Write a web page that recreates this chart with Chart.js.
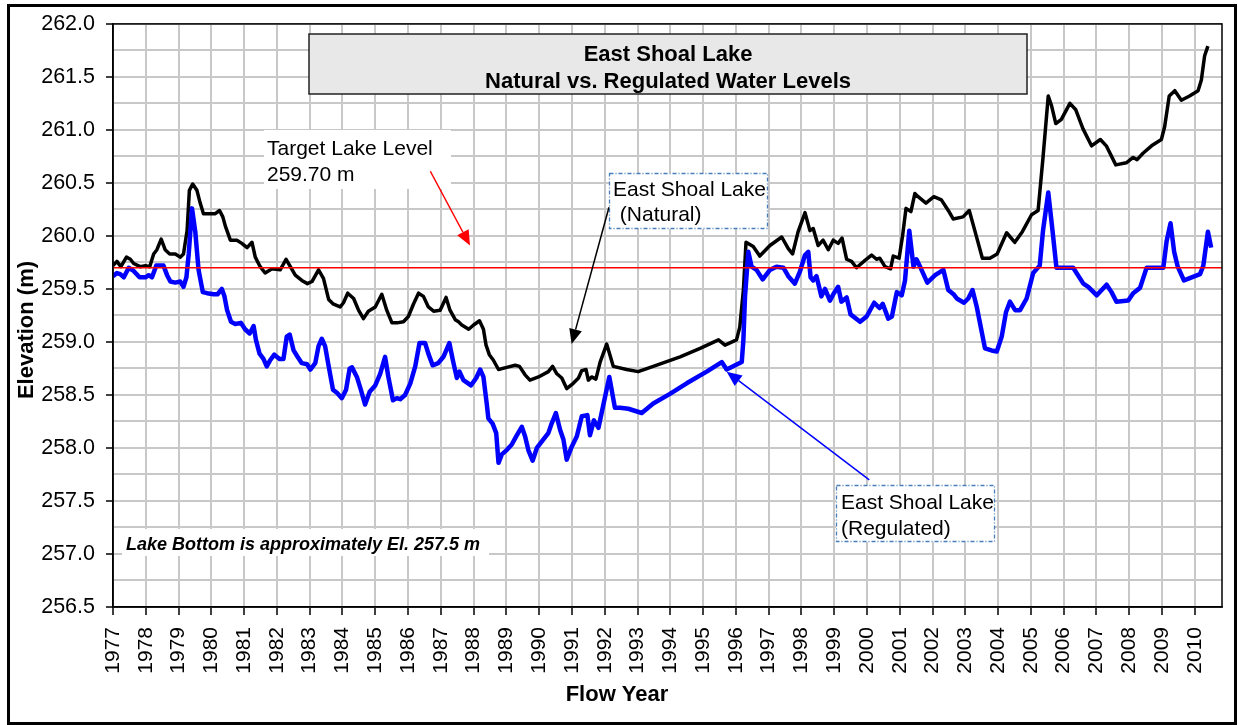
<!DOCTYPE html>
<html><head><meta charset="utf-8">
<script src="https://cdn.jsdelivr.net/npm/chart.js@4/dist/chart.umd.min.js"></script>
<style>html,body{margin:0;padding:0;background:#fff;}#wrap{width:1238px;height:725px;position:relative;}</style>
</head><body><div id="wrap"><canvas id="c"></canvas></div>
<script>
const naturalYears = [1977.00,1977.12,1977.24,1977.41,1977.53,1977.63,1977.83,1977.99,1978.12,1978.24,1978.34,1978.47,1978.59,1978.73,1978.90,1979.05,1979.15,1979.26,1979.33,1979.43,1979.56,1979.66,1979.76,1979.97,1980.12,1980.25,1980.35,1980.43,1980.58,1980.78,1980.93,1981.09,1981.24,1981.34,1981.49,1981.64,1981.85,1982.10,1982.28,1982.41,1982.56,1982.76,1982.93,1983.07,1983.27,1983.42,1983.58,1983.71,1983.93,1984.03,1984.16,1984.34,1984.49,1984.64,1984.79,1985.00,1985.20,1985.35,1985.51,1985.66,1985.86,1986.01,1986.17,1986.32,1986.47,1986.62,1986.78,1986.98,1987.16,1987.28,1987.44,1987.54,1987.64,1987.85,1988.00,1988.18,1988.30,1988.38,1988.48,1988.60,1988.76,1989.01,1989.27,1989.40,1989.57,1989.72,1989.98,1990.28,1990.41,1990.54,1990.69,1990.84,1991.04,1991.20,1991.30,1991.43,1991.50,1991.60,1991.73,1991.86,1992.06,1992.26,1992.67,1993.02,1993.48,1994.30,1994.91,1995.47,1995.67,1996.02,1996.12,1996.23,1996.31,1996.53,1996.73,1997.04,1997.40,1997.60,1997.73,1997.90,1998.11,1998.26,1998.36,1998.51,1998.66,1998.82,1998.97,1999.12,1999.24,1999.38,1999.53,1999.68,1999.94,2000.14,2000.29,2000.39,2000.55,2000.72,2000.80,2000.98,2001.09,2001.19,2001.34,2001.46,2001.56,2001.80,2002.04,2002.27,2002.48,2002.63,2002.93,2003.12,2003.29,2003.52,2003.75,2003.97,2004.26,2004.51,2004.74,2005.02,2005.22,2005.37,2005.53,2005.63,2005.76,2005.93,2006.19,2006.37,2006.59,2006.85,2007.12,2007.30,2007.59,2007.91,2008.12,2008.24,2008.42,2008.68,2008.98,2009.08,2009.22,2009.39,2009.59,2009.84,2010.10,2010.20,2010.30,2010.40];
const naturalLevels = [259.72,259.76,259.71,259.80,259.78,259.74,259.71,259.72,259.71,259.83,259.87,259.97,259.87,259.83,259.83,259.80,259.83,260.05,260.43,260.49,260.43,260.31,260.21,260.21,260.21,260.24,260.18,260.09,259.96,259.96,259.93,259.89,259.94,259.80,259.71,259.65,259.69,259.68,259.78,259.71,259.63,259.58,259.55,259.57,259.68,259.60,259.40,259.36,259.33,259.37,259.46,259.41,259.30,259.22,259.29,259.33,259.45,259.30,259.18,259.18,259.19,259.24,259.36,259.46,259.43,259.33,259.29,259.30,259.42,259.30,259.21,259.19,259.16,259.12,259.16,259.20,259.12,258.97,258.88,258.83,258.74,258.76,258.78,258.77,258.69,258.64,258.67,258.72,258.77,258.70,258.66,258.56,258.61,258.66,258.73,258.74,258.64,258.67,258.65,258.81,258.98,258.77,258.74,258.72,258.77,258.86,258.94,259.02,258.97,259.02,259.14,259.49,259.94,259.90,259.81,259.91,259.99,259.88,259.83,260.04,260.22,260.05,260.07,259.91,259.96,259.87,259.96,259.93,259.98,259.78,259.76,259.70,259.77,259.82,259.78,259.79,259.71,259.69,259.81,259.79,260.01,260.26,260.23,260.40,260.37,260.31,260.37,260.34,260.24,260.16,260.18,260.24,260.05,259.79,259.79,259.83,260.03,259.94,260.04,260.20,260.24,260.74,261.32,261.23,261.06,261.10,261.25,261.19,261.01,260.85,260.91,260.85,260.67,260.69,260.74,260.72,260.78,260.85,260.91,261.03,261.32,261.37,261.28,261.32,261.37,261.47,261.70,261.79];
const regulatedYears = [1977.00,1977.12,1977.22,1977.33,1977.48,1977.63,1977.81,1977.99,1978.09,1978.19,1978.32,1978.54,1978.65,1978.75,1978.90,1979.05,1979.15,1979.24,1979.31,1979.41,1979.51,1979.61,1979.74,1979.87,1980.07,1980.19,1980.32,1980.40,1980.48,1980.60,1980.73,1980.90,1981.03,1981.17,1981.29,1981.36,1981.47,1981.59,1981.69,1981.80,1981.92,1982.08,1982.20,1982.30,1982.39,1982.51,1982.63,1982.76,1982.92,1983.02,1983.17,1983.27,1983.37,1983.47,1983.58,1983.71,1983.83,1983.98,1984.11,1984.22,1984.29,1984.44,1984.56,1984.69,1984.83,1985.00,1985.15,1985.30,1985.40,1985.54,1985.66,1985.76,1985.91,1986.07,1986.22,1986.35,1986.52,1986.62,1986.75,1986.92,1987.08,1987.26,1987.38,1987.49,1987.57,1987.69,1987.92,1988.08,1988.20,1988.30,1988.40,1988.45,1988.58,1988.69,1988.76,1988.86,1989.01,1989.16,1989.30,1989.47,1989.57,1989.67,1989.80,1989.93,1990.13,1990.28,1990.38,1990.51,1990.64,1990.74,1990.84,1990.99,1991.15,1991.30,1991.47,1991.55,1991.67,1991.81,1991.96,1992.14,1992.31,1992.47,1992.72,1993.13,1993.48,1993.99,1994.50,1995.11,1995.57,1995.72,1996.18,1996.23,1996.28,1996.38,1996.48,1996.63,1996.82,1997.04,1997.24,1997.45,1997.60,1997.80,1997.95,1998.11,1998.21,1998.28,1998.36,1998.46,1998.61,1998.72,1998.87,1998.99,1999.12,1999.22,1999.38,1999.50,1999.79,1999.99,2000.22,2000.38,2000.48,2000.65,2000.76,2000.91,2001.06,2001.16,2001.29,2001.42,2001.51,2001.62,2001.84,2002.08,2002.33,2002.48,2002.64,2002.74,2002.96,2003.09,2003.22,2003.35,2003.60,2003.80,2003.96,2004.11,2004.24,2004.36,2004.52,2004.67,2004.87,2005.07,2005.27,2005.37,2005.53,2005.66,2005.78,2006.29,2006.60,2006.75,2007.01,2007.16,2007.31,2007.46,2007.61,2007.97,2008.12,2008.33,2008.53,2009.04,2009.14,2009.26,2009.37,2009.48,2009.67,2010.16,2010.26,2010.40,2010.50];
const regulatedLevels = [259.62,259.65,259.64,259.61,259.70,259.67,259.61,259.61,259.63,259.61,259.72,259.72,259.63,259.57,259.56,259.57,259.52,259.61,259.83,260.26,260.04,259.68,259.47,259.46,259.45,259.45,259.50,259.43,259.30,259.19,259.17,259.18,259.12,259.08,259.15,259.02,258.89,258.84,258.77,258.83,258.88,258.84,258.84,259.05,259.07,258.92,258.86,258.80,258.79,258.74,258.80,258.96,259.03,258.96,258.77,258.55,258.52,258.47,258.55,258.75,258.76,258.67,258.55,258.41,258.53,258.59,258.70,258.86,258.67,258.45,258.47,258.46,258.50,258.61,258.77,258.99,258.99,258.89,258.78,258.80,258.86,258.99,258.81,258.66,258.72,258.64,258.59,258.66,258.74,258.67,258.42,258.28,258.23,258.14,257.86,257.94,257.98,258.03,258.11,258.20,258.11,257.98,257.88,258.00,258.08,258.14,258.23,258.33,258.17,258.08,257.89,258.01,258.11,258.30,258.31,258.12,258.26,258.19,258.41,258.67,258.38,258.38,258.37,258.33,258.42,258.51,258.61,258.72,258.81,258.74,258.81,259.02,259.43,259.85,259.71,259.68,259.59,259.68,259.71,259.70,259.62,259.55,259.66,259.82,259.85,259.61,259.58,259.62,259.43,259.50,259.39,259.46,259.52,259.38,259.42,259.26,259.19,259.24,259.37,259.32,259.36,259.22,259.24,259.47,259.44,259.58,260.05,259.71,259.78,259.71,259.56,259.63,259.68,259.49,259.45,259.41,259.37,259.41,259.49,259.33,258.94,258.92,258.91,259.05,259.28,259.38,259.30,259.30,259.41,259.65,259.72,260.05,260.41,260.05,259.70,259.70,259.55,259.52,259.44,259.49,259.54,259.47,259.38,259.39,259.46,259.51,259.70,259.70,259.95,260.12,259.85,259.71,259.58,259.64,259.72,260.04,259.89];
const targetLevel = 259.70;
const yearRange = [1977, 2010.83];
const elevRange = [256.5, 262.0];
const titleLines = ['East Shoal Lake', 'Natural vs. Regulated Water Levels'];
const FONT = "'Liberation Sans', Arial, sans-serif";

function arrow(ctx, x1, y1, x2, y2, color) {
  const ang = Math.atan2(y2 - y1, x2 - x1), L = 15, W = 6.5;
  const bx = x2 - L * Math.cos(ang), by = y2 - L * Math.sin(ang);
  ctx.strokeStyle = color; ctx.fillStyle = color; ctx.lineWidth = 1.5;
  ctx.beginPath(); ctx.moveTo(x1, y1); ctx.lineTo(bx, by); ctx.stroke();
  ctx.beginPath(); ctx.moveTo(x2, y2);
  ctx.lineTo(bx + W * Math.sin(ang), by - W * Math.cos(ang));
  ctx.lineTo(bx - W * Math.sin(ang), by + W * Math.cos(ang));
  ctx.closePath(); ctx.fill();
}

const decor = {
  id: 'decor',
  beforeDraw(chart) {
    const ctx = chart.ctx; ctx.save(); ctx.fillStyle = '#fff'; ctx.fillRect(0, 0, chart.width, chart.height); ctx.restore();
  },
  afterDraw(chart) {
    const ctx = chart.ctx, a = chart.chartArea, x = chart.scales.x, y = chart.scales.y;
    ctx.save();
    ctx.strokeStyle = '#000'; ctx.lineWidth = 1.5;
    ctx.strokeRect(a.left, a.top, a.right - a.left, a.bottom - a.top);
    // title box
    ctx.fillStyle = '#e8e8e8'; ctx.fillRect(309, 34, 718, 60);
    ctx.strokeStyle = '#222'; ctx.lineWidth = 1.5; ctx.strokeRect(309, 34, 718, 60);
    ctx.fillStyle = '#000'; ctx.textAlign = 'center'; ctx.textBaseline = 'alphabetic';
    ctx.font = 'bold 22px ' + FONT;
    ctx.fillText(titleLines[0], 668, 61);
    ctx.fillText(titleLines[1], 668, 88);
    // target box
    ctx.fillStyle = '#fff'; ctx.fillRect(264, 130, 187, 59);
    ctx.fillStyle = '#000'; ctx.textAlign = 'left'; ctx.font = '21px ' + FONT;
    ctx.fillText('Target Lake Level', 267, 155);
    ctx.fillText('259.70 m', 267, 181);
    // natural box
    ctx.fillStyle = '#fff'; ctx.fillRect(609, 173, 159, 56);
    ctx.setLineDash([4, 2, 1, 2]); ctx.strokeStyle = '#4a7ebb'; ctx.lineWidth = 1.3;
    ctx.strokeRect(609.5, 173.5, 158, 55);
    ctx.fillStyle = '#000';
    ctx.fillText('East Shoal Lake', 613, 196);
    ctx.fillText(' (Natural)', 614, 221);
    // regulated box
    ctx.fillStyle = '#fff'; ctx.fillRect(836, 485, 159, 57);
    ctx.strokeRect(836.5, 485.5, 158, 56);
    ctx.setLineDash([]);
    ctx.fillStyle = '#000';
    ctx.fillText('East Shoal Lake', 841, 509);
    ctx.fillText('(Regulated)', 841, 535);
    // lake bottom note
    ctx.fillStyle = '#fff'; ctx.fillRect(122, 529, 367, 27);
    ctx.fillStyle = '#000'; ctx.font = 'italic bold 18px ' + FONT;
    ctx.fillText('Lake Bottom is approximately El. 257.5 m', 126, 550);
    // arrows (anchored in data units)
    arrow(ctx, x.getPixelForValue(1986.68), y.getPixelForValue(260.61), x.getPixelForValue(1987.89), y.getPixelForValue(259.91), '#ff0000');
    arrow(ctx, x.getPixelForValue(1992.13), y.getPixelForValue(260.27), x.getPixelForValue(1990.99), y.getPixelForValue(258.98), '#000000');
    arrow(ctx, x.getPixelForValue(2000.07), y.getPixelForValue(257.70), x.getPixelForValue(1995.72), y.getPixelForValue(258.72), '#0000ff');
    // axis titles
    ctx.fillStyle = '#000';
    ctx.font = 'bold 22px ' + FONT; ctx.textAlign = 'center'; ctx.textBaseline = 'middle';
    ctx.fillText('Flow Year', 617, 695);
    ctx.save(); ctx.translate(27, 330); ctx.rotate(-Math.PI / 2);
    ctx.fillText('Elevation (m)', 0, 0); ctx.restore();
    // outer frame
    ctx.strokeStyle = '#000'; ctx.lineWidth = 3;
    ctx.strokeRect(8.5, 5.5, 1227, 718);
    ctx.restore();
  }
};

const isMajor = v => Math.abs(v * 2 - Math.round(v * 2)) < 1e-6;

new Chart(document.getElementById('c'), {
  type: 'line',
  data: {
    datasets: [
      { label: 'Target', data: [{ x: yearRange[0], y: targetLevel }, { x: yearRange[1], y: targetLevel }], borderColor: '#ff0000', borderWidth: 1.5, pointRadius: 0 },
      { label: 'Regulated', data: regulatedYears.map((v, i) => ({ x: v, y: regulatedLevels[i] })), borderColor: '#0000ff', borderWidth: 4.5, pointRadius: 0, tension: 0, borderJoinStyle: 'round' },
      { label: 'Natural', data: naturalYears.map((v, i) => ({ x: v, y: naturalLevels[i] })), borderColor: '#000000', borderWidth: 3.5, pointRadius: 0, tension: 0, borderJoinStyle: 'round' }
    ]
  },
  options: {
    responsive: true, maintainAspectRatio: false, animation: false,
    layout: { padding: { top: 23, right: 16, bottom: 0, left: 0 } },
    plugins: { legend: { display: false }, tooltip: { enabled: false } },
    scales: {
      x: {
        type: 'linear', min: yearRange[0], max: yearRange[1],
        afterFit(s) { s.height = 118; },
        ticks: { stepSize: 1, includeBounds: false, autoSkip: false, minRotation: 90, maxRotation: 90, padding: 12, color: '#000', font: { size: 21, family: FONT }, callback: v => String(v) },
        grid: { color: '#c8c8c8', lineWidth: 2, tickLength: 8, tickColor: '#000', tickWidth: 1.5 },
        border: { color: '#000', width: 1.5 }
      },
      y: {
        min: elevRange[0], max: elevRange[1],
        afterFit(s) { s.width = 113; },
        ticks: { stepSize: 0.25, autoSkip: false, padding: 11, color: '#000', font: { size: 21.5, family: FONT }, callback: v => isMajor(v) ? Number(v).toFixed(1) : '' },
        grid: { color: '#c8c8c8', lineWidth: 2, tickLength: 7, tickWidth: 1.5, tickColor: c => (c.tick && isMajor(c.tick.value)) ? '#000' : 'rgba(0,0,0,0)' },
        border: { color: '#000', width: 1.5 }
      }
    }
  },
  plugins: [decor]
});
</script></body></html>
